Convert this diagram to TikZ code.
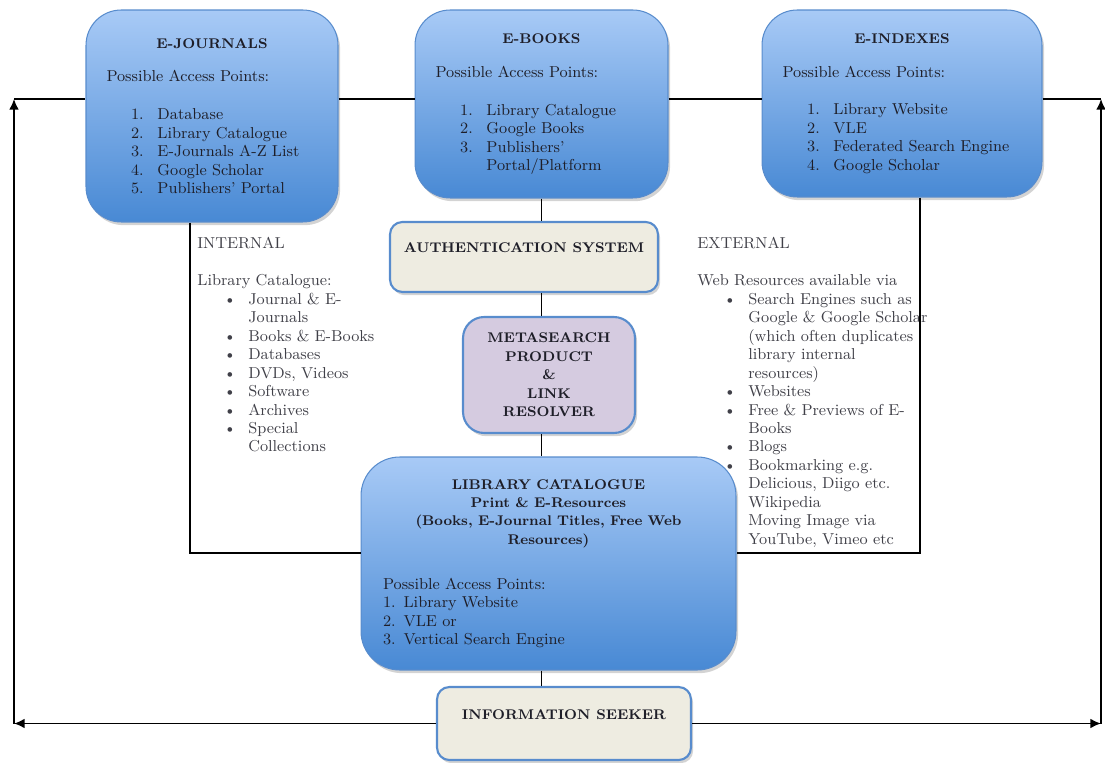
\documentclass[tikz,border=0pt]{standalone}
\usetikzlibrary{calc,positioning,shadows,arrows.meta}

\definecolor{boxtop}{RGB}{168,202,246}
\definecolor{boxbot}{RGB}{72,137,212}
\definecolor{boxline}{RGB}{88,140,205}
\definecolor{beige}{RGB}{238,236,225}
\definecolor{lilac}{RGB}{213,203,224}
\definecolor{inktext}{RGB}{30,30,40}

\setlength{\parindent}{0pt}
\newcommand{\nitem}[2]{\hspace*{14pt}\makebox[15pt][l]{#1}#2}
\newcommand{\bitem}[1]{\hspace*{15pt}\makebox[14pt][l]{\textbullet}#1}
\newcommand{\contline}[1]{\hspace*{29pt}#1}

\begin{document}
\begin{tikzpicture}[x=0.02cm,y=-0.02cm]

\tikzset{bluebox/.style={draw=boxline,line width=0.6pt,rounded corners=20pt,top color=boxtop,bottom color=boxbot,inner xsep=0.41cm,inner ysep=0pt,align=left,text=inktext,font=\fontsize{9}{10.5}\selectfont,drop shadow={shadow xshift=1.2pt,shadow yshift=-1.8pt,opacity=0.35}},
flatbox/.style={draw=boxline,line width=1.2pt,rounded corners=7pt,fill=beige,align=center,text=inktext,font=\fontsize{8}{10.5}\selectfont\bfseries,drop shadow={shadow xshift=1.2pt,shadow yshift=-1.8pt,opacity=0.35}},
sidetext/.style={anchor=north west,inner sep=0pt,align=left,text=inktext!85,font=\fontsize{9}{10.5}\selectfont},
link/.style={line width=1pt},
loop/.style={line width=1pt,-{Latex[length=6pt,width=5.5pt]}}}

\useasboundingbox (0,0) rectangle (1105,763);

% resource boxes
\node[bluebox,text width=4.22cm,minimum height=4.24cm] (ejournals) at (212,116) {{\centering\fontsize{8}{10.5}\selectfont\bfseries E-JOURNALS\par}\vspace{8.8pt}
Possible Access Points:\\[11pt]
\nitem{1.}{Database}\\
\nitem{2.}{Library Catalogue}\\
\nitem{3.}{E-Journals A-Z List}\\
\nitem{4.}{Google Scholar}\\
\nitem{5.}{Publishers' Portal}};
\node[bluebox,text width=4.24cm,minimum height=3.76cm] (ebooks) at (541.5,104) {{\centering\fontsize{8}{10.5}\selectfont\bfseries E-BOOKS\par}\vspace{8.8pt}
Possible Access Points:\\[11pt]
\nitem{1.}{Library Catalogue}\\
\nitem{2.}{Google Books}\\
\nitem{3.}{Publishers'}\\
\contline{Portal/Platform}};
\node[bluebox,text width=4.78cm,minimum height=3.74cm] (eindexes) at (902,103.5) {{\centering\fontsize{8}{10.5}\selectfont\bfseries E-INDEXES\par}\vspace{8.8pt}
Possible Access Points:\\[11pt]
\nitem{1.}{Library Website}\\
\nitem{2.}{VLE}\\
\nitem{3.}{Federated Search Engine}\\
\nitem{4.}{Google Scholar}};

% middle column
\node[flatbox,minimum width=5.36cm,minimum height=1.4cm] (auth) at (524,257) {AUTHENTICATION SYSTEM\\~};
\node[flatbox,fill=lilac,rounded corners=12pt,minimum width=3.44cm,minimum height=2.32cm] (meta) at (549,375) {METASEARCH\\PRODUCT\\\&\\LINK\\RESOLVER};
\node[bluebox,rounded corners=22pt,inner xsep=0.44cm,text width=6.62cm,minimum height=4.26cm] (libcat) at (548.5,563.5) {{\centering\fontsize{8}{10.5}\selectfont\bfseries LIBRARY CATALOGUE\\
Print \& E-Resources\\
(Books, E-Journal Titles, Free Web\\
Resources)\par}\vspace{15pt}
Possible Access Points:\\
1. Library Website\\
2. VLE or\\
3. Vertical Search Engine};
\node[flatbox,minimum width=5.08cm,minimum height=1.46cm] (seeker) at (564,723.5) {INFORMATION SEEKER\\~};

% side notes
\node[sidetext,text width=4cm] (internal) at (197,236.5) {INTERNAL\\[11pt]
Library Catalogue:\\
\bitem{Journal \& E-}\\
\contline{Journals}\\
\bitem{Books \& E-Books}\\
\bitem{Databases}\\
\bitem{DVDs, Videos}\\
\bitem{Software}\\
\bitem{Archives}\\
\bitem{Special}\\
\contline{Collections}};
\node[sidetext,text width=6cm] (external) at (697,236.5) {EXTERNAL\\[11pt]
Web Resources available via\\
\bitem{Search Engines such as}\\
\contline{Google \& Google Scholar}\\
\contline{(which often duplicates}\\
\contline{library internal}\\
\contline{resources)}\\
\bitem{Websites}\\
\bitem{Free \& Previews of E-}\\
\contline{Books}\\
\bitem{Blogs}\\
\bitem{Bookmarking e.g.}\\
\contline{Delicious, Diigo etc.}\\
\contline{Wikipedia}\\
\contline{Moving Image via}\\
\contline{YouTube, Vimeo etc}};

% loop corners
\coordinate (lt) at (14,99);
\coordinate (rt) at (1101,99);
\coordinate (lb) at (seeker.west -| lt);
\coordinate (rb) at (seeker.east -| rt);
\coordinate (intc) at (190,553);
\coordinate (extc) at (920,553);

% Edges
\draw[link] (lt) -- (lt -| ejournals.west);
\draw[link] (lt -| ejournals.east) -- (lt -| ebooks.west);
\draw[link] (lt -| ebooks.east) -- (lt -| eindexes.west);
\draw[link] (rt -| eindexes.east) -- (rt);
\draw[loop] (seeker.west) -- (lb);
\draw[loop] (lb) -- (lt);
\draw[loop] (seeker.east) -- (rb);
\draw[loop] (rb) -- (rt);
\draw[link] (ebooks.south) -- (ebooks.south |- auth.north);
\draw[link] (auth.south -| ebooks.south) -- (meta.north -| ebooks.south);
\draw[link] (meta.south -| ebooks.south) -- (libcat.north -| ebooks.south);
\draw[link] (libcat.south -| ebooks.south) -- (seeker.north -| ebooks.south);
\draw[link] (intc |- ejournals.south) -- (intc) -- (intc -| libcat.west);
\draw[link] (extc |- eindexes.south) -- (extc) -- (extc -| libcat.east);

\end{tikzpicture}
\end{document}
